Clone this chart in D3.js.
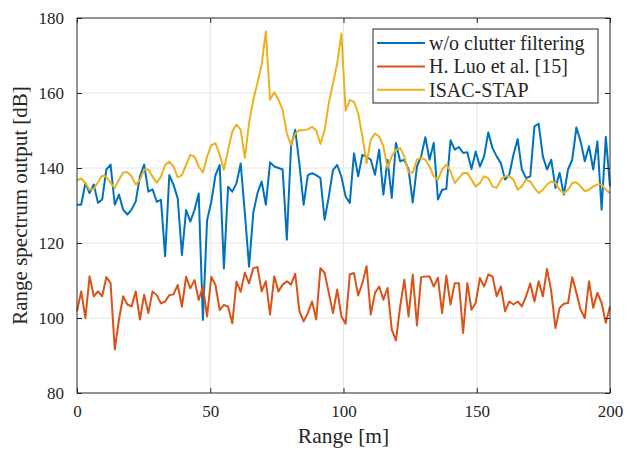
<!DOCTYPE html>
<html>
<head>
<meta charset="utf-8">
<script src="https://cdn.jsdelivr.net/npm/d3@7"></script>
<style>
  body { margin: 0; background: #fff; }
</style>
</head>
<body>
<div id="chart"></div>
<script>
// values, one sample per range bin (128 bins over 0..200 m)
const woFilter = [130.2,130.2,136.0,133.3,135.6,130.7,131.6,139.6,140.9,130.2,132.9,128.9,127.6,128.9,131.1,137.8,140.9,133.7,134.3,131.0,
  131.5,116.5,138.1,135.5,131.9,116.8,128.8,125.7,128.8,133.2,99.5,126.1,131.0,138.1,140.8,113.2,135.0,133.7,135.9,141.2,
  127.9,113.7,128.0,133.3,136.4,130.2,141.5,140.4,140.0,139.6,120.9,145.8,150.2,141.0,130.2,138.1,138.6,138.1,137.3,126.2,
  132.4,139.5,140.8,137.7,132.4,130.7,143.9,137.8,143.5,143.0,142.2,138.2,144.9,132.9,142.2,132.0,146.7,141.8,142.2,139.6,
  130.8,140.4,143.1,148.2,142.2,146.7,131.6,134.2,134.4,147.4,144.9,145.6,144.0,144.2,139.7,144.4,140.4,143.1,149.5,145.3,
  143.1,141.3,136.9,138.2,143.6,147.7,139.6,137.3,137.8,151.1,151.8,143.1,139.6,142.2,134.7,138.7,132.9,139.6,142.2,150.8,
  147.1,141.8,145.8,139.6,147.1,128.9,148.3,135.1];

const luo = [101.8,107.1,100.0,111.1,105.8,107.1,105.8,110.9,109.3,91.6,99.6,105.8,103.6,103.1,107.1,99.6,106.2,101.3,107.1,106.1,
  103.9,104.4,106.1,106.3,108.8,103.0,111.0,107.9,110.1,104.8,108.4,100.4,111.0,108.8,102.1,103.5,103.0,98.6,109.7,107.0,
  112.1,109.2,113.3,113.6,107.1,109.8,100.9,111.1,107.1,108.9,109.8,108.9,111.8,101.8,99.1,101.3,104.4,99.6,113.3,112.0,
  106.7,101.3,107.6,100.4,98.5,111.6,112.0,106.0,109.3,113.8,100.9,106.7,108.4,104.9,108.0,96.9,94.0,103.1,110.2,100.4,
  111.6,98.0,110.9,111.1,111.1,108.4,110.7,101.3,111.3,103.6,109.3,109.3,96.0,109.3,102.2,104.0,110.7,108.4,111.6,111.1,
  105.8,108.4,101.8,104.4,103.6,104.4,103.1,105.8,109.2,104.4,109.8,105.8,113.1,107.1,97.3,102.7,103.8,104.0,110.9,106.7,
  102.2,100.0,109.8,102.7,106.7,104.0,98.7,103.1];

const isacStap = [136.7,137.2,136.0,134.2,134.4,136.2,138.0,137.6,136.0,134.7,136.9,138.8,138.9,137.8,135.6,136.8,139.6,139.6,137.7,136.1,
  137.7,140.8,141.7,140.4,137.5,138.1,140.8,143.5,143.0,140.4,138.8,143.0,146.1,146.6,143.5,139.5,144.8,149.7,151.6,150.2,
  142.7,152.0,158.2,162.7,167.6,176.4,158.2,160.2,158.2,155.5,149.2,146.1,149.2,150.1,150.1,150.3,151.0,150.0,146.4,150.1,
  157.3,162.6,167.9,175.9,155.3,158.1,157.7,154.6,148.4,141.3,147.5,149.2,148.4,145.8,140.0,143.1,144.9,145.3,143.1,138.8,
  138.8,142.2,142.7,142.2,140.4,137.8,136.9,139.6,140.9,139.1,136.0,137.3,138.7,138.7,136.9,135.1,136.0,137.8,137.3,135.1,
  134.7,136.9,137.8,137.8,136.9,134.2,135.1,136.9,136.4,134.7,133.3,134.2,135.6,136.4,136.0,134.2,133.3,134.2,136.0,136.2,
  135.1,133.8,134.2,135.1,135.6,135.6,134.2,133.3];

const seriesNames = ["w/o clutter filtering", "H. Luo et al. [15]", "ISAC-STAP"];
const seriesColors = ["#0072BD", "#D95319", "#EDB120"];
const xTicks = [0, 50, 100, 150, 200];
const yTicks = [80, 100, 120, 140, 160, 180];

const FONT = "'Liberation Serif', 'Times New Roman', serif";
const INK = "#262626";

const rangeBins = d3.range(woFilter.length).map(function(i) { return i * 200 / (woFilter.length - 1); });
const allSeries = [woFilter, luo, isacStap];

const W = 632, H = 451;
const margin = { top: 18, right: 22, bottom: 58, left: 77 };
const iw = W - margin.left - margin.right;
const ih = H - margin.top - margin.bottom;

const svg = d3.select("#chart").append("svg")
    .attr("width", W)
    .attr("height", H)
    .attr("font-family", FONT);

const g = svg.append("g")
    .attr("transform", "translate(" + margin.left + "," + margin.top + ")");

const x = d3.scaleLinear().domain([0, 200]).range([0, iw]);
const y = d3.scaleLinear().domain([80, 180]).range([ih, 0]);

// grid
g.append("g").selectAll("line").data(xTicks.slice(1, -1)).join("line")
    .attr("x1", function(d) { return x(d); }).attr("x2", function(d) { return x(d); })
    .attr("y1", 0).attr("y2", ih)
    .attr("stroke", "#e6e6e6").attr("stroke-width", 1);
g.append("g").selectAll("line").data(yTicks.slice(1, -1)).join("line")
    .attr("y1", function(d) { return y(d); }).attr("y2", function(d) { return y(d); })
    .attr("x1", 0).attr("x2", iw)
    .attr("stroke", "#e6e6e6").attr("stroke-width", 1);

// series
const line = d3.line()
    .x(function(d, i) { return x(rangeBins[i]); })
    .y(function(d) { return y(d); });

allSeries.forEach(function(s, k) {
    g.append("path")
        .datum(s)
        .attr("fill", "none")
        .attr("stroke", seriesColors[k])
        .attr("stroke-width", 2)
        .attr("stroke-linejoin", "round")
        .attr("d", line);
});

// axes (ticks pointing inward, box around)
function styleAxis(sel) {
    sel.attr("font-family", FONT);
    sel.select(".domain").remove();
    sel.selectAll(".tick line").attr("stroke", INK);
    sel.selectAll(".tick text").attr("font-size", 17).attr("fill", INK)
        .attr("font-family", FONT);
}

g.append("g").attr("transform", "translate(0," + ih + ")")
    .call(d3.axisBottom(x).tickValues(xTicks).tickSize(-5).tickPadding(12))
    .call(styleAxis);
g.append("g")
    .call(d3.axisTop(x).tickValues(xTicks).tickSize(-5).tickFormat(""))
    .call(styleAxis);
g.append("g")
    .call(d3.axisLeft(y).tickValues(yTicks).tickSize(-5).tickPadding(13))
    .call(styleAxis);
g.append("g").attr("transform", "translate(" + iw + ",0)")
    .call(d3.axisRight(y).tickValues(yTicks).tickSize(-5).tickFormat(""))
    .call(styleAxis);

g.append("rect")
    .attr("width", iw).attr("height", ih)
    .attr("fill", "none").attr("stroke", INK).attr("stroke-width", 1);

// axis titles
svg.append("text")
    .attr("x", margin.left + iw / 2).attr("y", 443)
    .attr("text-anchor", "middle").attr("font-size", 21.5)
    .attr("font-family", FONT).attr("fill", INK)
    .text("Range [m]");
svg.append("text")
    .attr("transform", "translate(27," + (margin.top + ih / 2) + ") rotate(-90)")
    .attr("text-anchor", "middle").attr("font-size", 21)
    .attr("font-family", FONT).attr("fill", INK)
    .text("Range spectrum output [dB]");

// legend
const lg = svg.append("g").attr("transform", "translate(373,29)");
lg.append("rect")
    .attr("width", 225).attr("height", 74)
    .attr("fill", "#fff").attr("stroke", INK).attr("stroke-width", 1);
seriesNames.forEach(function(name, k) {
    const yy = 14 + k * 23.4;
    lg.append("line")
        .attr("x1", 4).attr("x2", 52).attr("y1", yy).attr("y2", yy)
        .attr("stroke", seriesColors[k]).attr("stroke-width", 2);
    lg.append("text")
        .attr("x", 56).attr("y", yy).attr("dy", "0.35em")
        .attr("font-size", 20).attr("font-family", FONT).attr("fill", INK)
        .text(name);
});
</script>
</body>
</html>
